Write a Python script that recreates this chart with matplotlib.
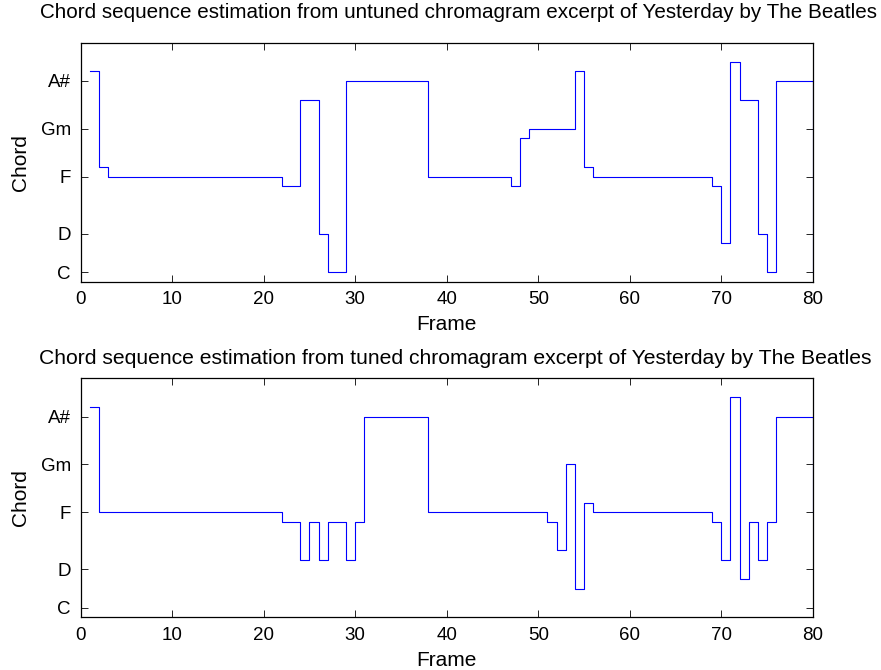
import numpy as np
import matplotlib
matplotlib.use("Agg")
import matplotlib.pyplot as plt

# chord index per frame (C=1, Cm=2, C#=3, ... B=23, Bm=24)
untuned = [22, 12,
           11, 11, 11, 11, 11, 11, 11, 11, 11, 11, 11, 11, 11, 11, 11, 11, 11, 11, 11,
           10, 10, 19, 19, 5, 1, 1,
           21, 21, 21, 21, 21, 21, 21, 21, 21,
           11, 11, 11, 11, 11, 11, 11, 11, 11,
           10, 15, 16, 16, 16, 16, 16, 22, 12,
           11, 11, 11, 11, 11, 11, 11, 11, 11, 11, 11, 11, 11,
           10, 4, 23, 19, 19, 5, 1, 21, 21, 21, 21, 1]

tuned = [22,
         11, 11, 11, 11, 11, 11, 11, 11, 11, 11, 11, 11, 11, 11, 11, 11, 11, 11, 11, 11,
         10, 10, 6, 10, 6, 10, 10, 6, 10,
         21, 21, 21, 21, 21, 21, 21,
         11, 11, 11, 11, 11, 11, 11, 11, 11, 11, 11, 11, 11,
         10, 7, 16, 3, 12,
         11, 11, 11, 11, 11, 11, 11, 11, 11, 11, 11, 11, 11,
         10, 6, 23, 4, 10, 6, 10, 21, 21, 21, 21, 11]

chord_ticks = [1, 5, 11, 16, 21]
chord_labels = ["C", "D", "F", "Gm", "A#"]
x_ticks = [0, 10, 20, 30, 40, 50, 60, 70, 80]

titles = ["Chord sequence estimation from untuned chromagram excerpt of Yesterday by The Beatles",
          "Chord sequence estimation from tuned chromagram excerpt of Yesterday by The Beatles"]

plt.rcParams["font.family"] = ["Liberation Sans", "DejaVu Sans"]
plt.rcParams["font.size"] = 13.5

fig = plt.figure(figsize=(8.81, 6.70), dpi=100)


def plot_chords(rect, chords, title, pad, title_size, title_x):
    ax = fig.add_axes(rect)
    frames = np.arange(1, len(chords) + 1)
    ax.step(frames, chords, where="post", color="blue", linewidth=0.8)
    ax.set_xlim(0, 80)
    ax.set_ylim(0, 25)
    ax.set_xticks(x_ticks)
    ax.set_yticks(chord_ticks)
    ax.set_yticklabels(chord_labels)
    ax.tick_params(direction="in", top=True, right=True, length=5, width=0.6,
                   pad=7, labelsize=13.5)
    for s in ax.spines.values():
        s.set_linewidth(0.9)
    ax.set_xlabel("Frame", labelpad=5, fontsize=15)
    ax.set_ylabel("Chord", labelpad=8, fontsize=15)
    # title sits a little right of the axes centre in the original
    ax.set_title(title, pad=pad, fontsize=title_size, x=title_x)
    return ax


plot_chords([0.0916, 0.5796, 0.8309, 0.3567], untuned, titles[0], 18, 14.9, 0.516)
plot_chords([0.0916, 0.0787, 0.8309, 0.3567], tuned, titles[1], 10, 15.25, 0.512)

fig.savefig("out.png", dpi=100)
